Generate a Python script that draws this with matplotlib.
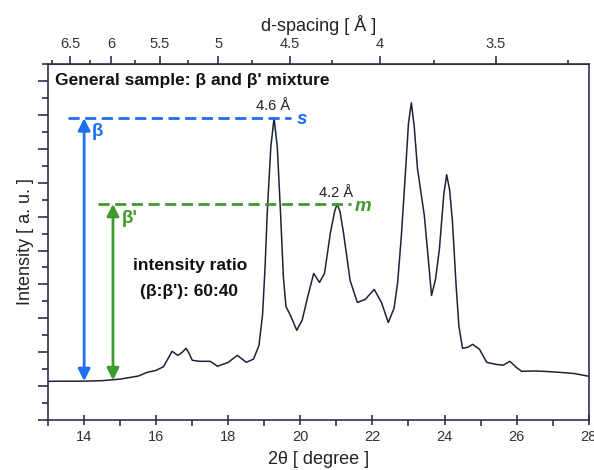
import numpy as np
import matplotlib
matplotlib.use("Agg")
import matplotlib.pyplot as plt

# XRD pattern (2theta in degrees, intensity in a.u.)
two_theta = [13.0, 13.5, 14.0, 14.5, 15.0, 15.5, 15.75, 16.0, 16.2, 16.32,
             16.44, 16.6, 16.72, 16.83, 16.92, 17.0, 17.2, 17.5, 17.7, 18.0,
             18.25, 18.5, 18.7, 18.85, 18.95, 19.02, 19.08, 19.18, 19.27, 19.36,
             19.45, 19.53, 19.6, 19.72, 19.9, 20.05, 20.2, 20.37, 20.53, 20.67,
             20.83, 20.95, 21.02, 21.1, 21.2, 21.38, 21.58, 21.8, 22.05, 22.25,
             22.44, 22.6, 22.7, 22.8, 22.9, 23.0, 23.08, 23.16, 23.25, 23.44,
             23.55, 23.64, 23.75, 23.86, 23.98, 24.06, 24.14, 24.22, 24.32, 24.4,
             24.5, 24.65, 24.78, 24.97, 25.17, 25.4, 25.63, 25.81, 26.0, 26.14,
             26.5, 26.75, 27.2, 27.6, 28.0]
intensity = [2.29, 2.30, 2.30, 2.33, 2.42, 2.60, 2.82, 2.94, 3.15, 3.60,
             4.06, 3.82, 4.00, 4.24, 3.90, 3.53, 3.47, 3.47, 3.18, 3.41,
             3.82, 3.41, 3.60, 4.40, 6.20, 9.00, 12.2, 16.1, 17.8, 16.1,
             12.2, 8.40, 6.70, 6.20, 5.30, 5.90, 7.24, 8.65, 8.12, 8.65,
             11.0, 12.3, 12.75, 12.3, 11.0, 8.24, 6.94, 7.12, 7.71, 6.94,
             5.76, 6.60, 8.12, 10.8, 14.06, 17.5, 18.71, 17.3, 14.82, 12.06,
             9.50, 7.35, 8.30, 10.12, 13.3, 14.47, 13.6, 11.71, 8.00, 5.53,
             4.24, 4.30, 4.47, 4.18, 3.41, 3.30, 3.24, 3.47, 3.10, 2.88,
             2.90, 2.88, 2.82, 2.75, 2.59]

# top axis: d-spacing ticks
d_major = [6.5, 6, 5.5, 5, 4.5, 4, 3.5]
d_labels = ['6.5', '6', '5.5', '5', '4.5', '4', '3.5']
d_minor = [6.75, 6.25, 5.75, 5.25, 4.75, 4.25, 3.75, 3.25]

# reference levels
beta_level = 17.8      # 4.6 A peak
beta_p_level = 12.75   # 4.2 A peak
baseline = 2.3

WAVELENGTH = 1.5406  # Cu K-alpha

BLUE = '#1f6ff2'
GREEN = '#3f9a2c'
DARK = '#1c2238'
SPINE = '#2b3050'

plt.rcParams['font.family'] = ['Liberation Sans', 'DejaVu Sans']


def tt_to_d(tt):
    tt = np.clip(np.asarray(tt, dtype=float), 0.5, 179)
    return WAVELENGTH / (2 * np.sin(np.radians(tt / 2)))


def d_to_tt(d):
    d = np.asarray(d, dtype=float)
    s = np.clip(WAVELENGTH / (2 * np.clip(d, 0.8, None)), -1, 1)
    return 2 * np.degrees(np.arcsin(s))


fig = plt.figure(figsize=(5.94, 4.70), dpi=100)
ax = fig.add_axes([0.081, 0.106, 0.910, 0.758])

ax.plot(two_theta, intensity, color=DARK, lw=1.1, solid_joinstyle='round')

ax.set_xlim(13, 28)
ax.set_ylim(0, 21)

# dashed reference lines
ax.hlines(beta_level, 13.55, 19.75, colors=BLUE, linestyles=(0, (4, 2)), lw=2)
ax.hlines(beta_p_level, 14.38, 21.4, colors=GREEN, linestyles=(0, (4, 2)), lw=2)

# double-headed arrows
ax.annotate('', xy=(14.0, baseline), xytext=(14.0, beta_level),
            arrowprops=dict(arrowstyle='<|-|>', color=BLUE, lw=2,
                            mutation_scale=18, shrinkA=0, shrinkB=0))
ax.annotate('', xy=(14.8, baseline + 0.05), xytext=(14.8, beta_p_level),
            arrowprops=dict(arrowstyle='<|-|>', color=GREEN, lw=2,
                            mutation_scale=18, shrinkA=0, shrinkB=0))

ax.text(14.2, 17.0, 'β', color=BLUE, fontsize=13.5, fontweight='bold',
        ha='left', va='center')
ax.text(15.05, 11.9, "β'", color=GREEN, fontsize=13.5, fontweight='bold',
        ha='left', va='center')
ax.text(19.9, 17.75, 's', color=BLUE, fontsize=13.5, fontweight='bold',
        style='italic', ha='left', va='center')
ax.text(21.5, 12.6, 'm', color=GREEN, fontsize=13.5, fontweight='bold',
        style='italic', ha='left', va='center')

ax.text(19.23, 18.5, '4.6 Å', color='#222222', fontsize=10.5,
        ha='center', va='center')
ax.text(21.0, 13.4, '4.2 Å', color='#222222', fontsize=10.5,
        ha='center', va='center')

ax.text(13.19, 20.0, "General sample: β and β' mixture", fontsize=12.5,
        fontweight='bold', ha='left', va='center', color='#111111')
ax.text(16.95, 9.1, 'intensity ratio', fontsize=12.5, fontweight='bold',
        ha='center', va='center', color='#111111')
ax.text(16.9, 7.6, "(β:β'): 60:40", fontsize=12.5, fontweight='bold',
        ha='center', va='center', color='#111111')

# axes styling
ax.set_xlabel('2θ [ degree ]', fontsize=13, color='#222222', labelpad=5)
ax.set_ylabel('Intensity [ a. u. ]', fontsize=13, color='#222222', labelpad=0)
ax.set_xticks(range(14, 29, 2))
ax.set_xticks(range(13, 29), minor=True)
ax.set_yticks(range(0, 22, 2))
ax.set_yticks(range(0, 22), minor=True)
ax.set_yticklabels([])
for sp in ax.spines.values():
    sp.set_color(SPINE)
    sp.set_linewidth(1.2)
ax.tick_params(axis='x', which='major', direction='inout', length=7,
               width=1.2, color=SPINE, labelsize=10.5, labelcolor='#333333')
ax.tick_params(axis='x', which='minor', direction='out', length=4,
               width=1.2, color=SPINE)
ax.tick_params(axis='y', which='major', direction='out', length=7,
               width=1.2, color=SPINE)
ax.tick_params(axis='y', which='minor', direction='out', length=4,
               width=1.2, color=SPINE)

top = ax.secondary_xaxis('top', functions=(tt_to_d, d_to_tt))
top.set_xticks(d_major)
top.set_xticklabels(d_labels)
top.set_xticks(d_minor, minor=True)
top.spines['top'].set_color(SPINE)
top.tick_params(axis='x', which='major', direction='out', length=6,
                width=1.2, color=SPINE, labelsize=10.5, labelcolor='#333333')
top.tick_params(axis='x', which='minor', direction='out', length=3,
                width=1.2, color=SPINE)
top.set_xlabel('d-spacing [ Å ]', fontsize=13, color='#222222', labelpad=4)

fig.savefig('out.png', dpi=100)
